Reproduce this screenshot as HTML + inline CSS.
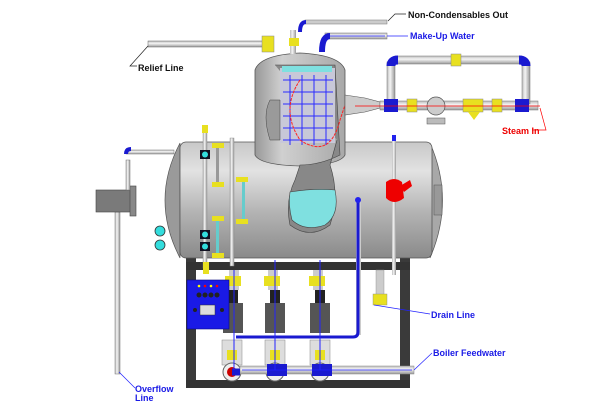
<!DOCTYPE html>
<html><head><meta charset="utf-8"><style>
html,body{margin:0;padding:0;background:#fff}
svg{display:block}
text{font-family:"Liberation Sans",sans-serif;font-size:9px;font-weight:bold}
</style></head><body>
<svg width="600" height="409" viewBox="0 0 600 409" xmlns="http://www.w3.org/2000/svg">
<defs>
<linearGradient id="tank" x1="0" y1="0" x2="0" y2="1">
<stop offset="0" stop-color="#c8c8c8"/><stop offset="0.25" stop-color="#e2e2e2"/><stop offset="0.6" stop-color="#b4b4b4"/><stop offset="1" stop-color="#8a8a8a"/></linearGradient>
<linearGradient id="tower" x1="0" y1="0" x2="1" y2="0">
<stop offset="0" stop-color="#999"/><stop offset="0.3" stop-color="#d0d0d0"/><stop offset="1" stop-color="#a8a8a8"/></linearGradient>
<linearGradient id="pipe" x1="0" y1="0" x2="0" y2="1">
<stop offset="0" stop-color="#bbb"/><stop offset="0.4" stop-color="#f4f4f4"/><stop offset="1" stop-color="#999"/></linearGradient>
<linearGradient id="vpipe" x1="0" y1="0" x2="1" y2="0">
<stop offset="0" stop-color="#bbb"/><stop offset="0.4" stop-color="#f4f4f4"/><stop offset="1" stop-color="#999"/></linearGradient>
</defs>
<!-- overflow box and pipe -->
<rect x="115" y="212" width="5" height="162" fill="url(#vpipe)" stroke="#777" stroke-width="0.5"/>
<rect x="96" y="190" width="36" height="22" fill="#7a7a7a" stroke="#444" stroke-width="0.6"/>
<rect x="130" y="186" width="6" height="30" fill="#888" stroke="#444" stroke-width="0.6"/>
<rect x="126" y="160" width="4" height="30" fill="url(#vpipe)" stroke="#777" stroke-width="0.5"/>
<rect x="126" y="150" width="48" height="4" fill="url(#pipe)" stroke="#777" stroke-width="0.5"/>
<path d="M126 154 q0-5 5-5" stroke="#1a1ad0" stroke-width="4" fill="none"/>
<!-- frame -->
<rect x="186" y="210" width="10" height="178" fill="#3a3a3a"/>
<rect x="400" y="210" width="10" height="178" fill="#3a3a3a"/>
<rect x="186" y="262" width="224" height="8" fill="#333"/>
<rect x="186" y="380" width="224" height="8" fill="#333"/>
<!-- tank -->
<path d="M180 143 Q150 200 180 258 Z" fill="#9a9a9a" stroke="#555" stroke-width="0.7"/>
<path d="M430 143 Q455 200 430 258 Z" fill="#a8a8a8" stroke="#555" stroke-width="0.7"/>
<rect x="180" y="142" width="252" height="116" rx="6" fill="url(#tank)" stroke="#555" stroke-width="0.8"/>
<rect x="434" y="185" width="8" height="30" fill="#999" stroke="#555" stroke-width="0.5"/>
<!-- tower -->
<path d="M255 70 Q260 55 300 53 Q340 55 345 70 L345 155 Q340 165 300 166 Q260 165 255 155 Z" fill="url(#tower)" stroke="#555" stroke-width="0.8"/>
<path d="M275 65 L335 65 L340 155 Q320 165 300 165 L295 180 Q285 200 290 225 Q310 240 330 225 Q340 195 330 165 L337 140" fill="#888" stroke="#444" stroke-width="0.6"/>
<path d="M290 192 Q315 188 335 190 Q340 215 325 225 Q305 232 292 220 Q288 205 290 192 Z" fill="#7fe0e0" stroke="#444" stroke-width="0.6"/>
<rect x="280" y="68" width="55" height="75" fill="#c8c8d8"/>
<g fill="none" stroke="#2a2aff" stroke-width="1">
<path d="M283 80 L333 80 M283 92 L333 92 M283 104 L333 104 M283 116 L333 116 M283 128 L333 128 M283 140 L330 140"/>
<path d="M290 75 L290 145 M302 75 L302 145 M314 75 L314 145 M326 75 L326 145"/>
</g>
<path d="M300 80 Q280 110 300 140 Q330 160 340 120 L345 105" fill="none" stroke="#f22" stroke-width="1" stroke-dasharray="3,1"/>
<rect x="282" y="66" width="50" height="6" fill="#7fe0e0"/>
<path d="M270 100 Q262 115 270 140 L280 140 L280 100 Z" fill="#9a9a9a" stroke="#444" stroke-width="0.5"/>
<!-- steam pipework -->
<path d="M345 95 L365 98 L380 102 L380 108 L365 112 L345 115 Z" fill="#ccc" stroke="#555" stroke-width="0.6"/>
<rect x="380" y="101" width="158" height="9" fill="url(#pipe)" stroke="#777" stroke-width="0.5"/>
<rect x="387" y="62" width="8" height="42" fill="url(#vpipe)" stroke="#777" stroke-width="0.5"/>
<rect x="522" y="62" width="8" height="42" fill="url(#vpipe)" stroke="#777" stroke-width="0.5"/>
<rect x="395" y="56" width="127" height="8" fill="url(#pipe)" stroke="#777" stroke-width="0.5"/>
<path d="M391 66 Q391 60 398 60" stroke="#1a1ad0" stroke-width="9" fill="none"/>
<path d="M526 66 Q526 60 519 60" stroke="#1a1ad0" stroke-width="9" fill="none"/>
<rect x="384" y="99" width="14" height="13" fill="#1a1ad0"/>
<rect x="515" y="99" width="14" height="13" fill="#1a1ad0"/>
<rect x="451" y="54" width="10" height="12" fill="#e8e020" stroke="#888" stroke-width="0.5"/>
<rect x="407" y="99" width="10" height="13" fill="#e8e020" stroke="#888" stroke-width="0.5"/>
<rect x="492" y="99" width="10" height="13" fill="#e8e020" stroke="#888" stroke-width="0.5"/>
<rect x="463" y="99" width="20" height="13" fill="#e8e020" stroke="#888" stroke-width="0.5"/>
<path d="M468 112 L480 112 L474 120 Z" fill="#e8e020"/>
<circle cx="436" cy="106" r="9" fill="#ccc" stroke="#555" stroke-width="0.7"/>
<rect x="427" y="118" width="18" height="6" fill="#bbb" stroke="#555" stroke-width="0.5"/>
<path d="M355 106 L540 106" stroke="#f00" stroke-width="0.8"/>
<!-- top pipes -->
<rect x="148" y="41" width="120" height="6" fill="url(#pipe)" stroke="#666" stroke-width="0.5"/>
<rect x="262" y="36" width="12" height="16" fill="#e8e020" stroke="#888" stroke-width="0.5"/>
<rect x="290" y="30" width="6" height="24" fill="url(#vpipe)"/>
<rect x="289" y="38" width="10" height="8" fill="#e8e020"/>
<rect x="305" y="20" width="82" height="4" fill="#ccc" stroke="#777" stroke-width="0.5"/>
<path d="M300 32 Q300 22 306 22" stroke="#1a1ad0" stroke-width="4" fill="none"/>
<rect x="325" y="33" width="62" height="6" fill="url(#pipe)" stroke="#777" stroke-width="0.5"/>
<path d="M322 52 Q322 36 330 36" stroke="#1a1ad0" stroke-width="6" fill="none"/>
<path d="M385 36 L330 36" stroke="#22f" stroke-width="0.8"/>
<!-- left gauges -->
<rect x="203" y="128" width="4" height="140" fill="url(#vpipe)" stroke="#888" stroke-width="0.4"/>
<rect x="230" y="138" width="4" height="128" fill="url(#vpipe)" stroke="#888" stroke-width="0.4"/>
<rect x="200" y="150" width="10" height="9" fill="#112"/><circle cx="205" cy="154.5" r="3" fill="#3dd"/>
<rect x="200" y="230" width="10" height="9" fill="#112"/><circle cx="205" cy="234.5" r="3" fill="#3dd"/>
<rect x="200" y="242" width="10" height="9" fill="#112"/><circle cx="205" cy="246.5" r="3" fill="#3dd"/>
<rect x="216" y="145" width="3" height="40" fill="#999"/><rect x="242" y="180" width="3" height="40" fill="#6cc"/>
<rect x="216" y="220" width="3" height="35" fill="#6cc"/>
<g fill="#e8e020"><rect x="212" y="143" width="12" height="5"/><rect x="212" y="182" width="12" height="5"/><rect x="236" y="177" width="12" height="5"/><rect x="236" y="219" width="12" height="5"/><rect x="212" y="216" width="12" height="5"/><rect x="212" y="253" width="12" height="5"/><rect x="202" y="125" width="6" height="8"/><rect x="203" y="262" width="6" height="12"/></g>
<circle cx="160" cy="231" r="5" fill="#3dd" stroke="#333" stroke-width="0.8"/>
<circle cx="160" cy="245" r="5" fill="#3dd" stroke="#333" stroke-width="0.8"/>
<!-- right vertical / red trap -->
<rect x="392" y="138" width="4" height="137" fill="url(#vpipe)"/>
<rect x="392" y="135" width="4" height="6" fill="#22e"/>
<path d="M386 182 Q394 176 402 182 L404 198 Q394 206 386 198 Z" fill="#e00"/>
<path d="M400 186 L410 180 L412 186 L404 192 Z" fill="#e00"/>
<rect x="376" y="270" width="8" height="25" fill="#ccc" stroke="#888" stroke-width="0.4"/>
<rect x="373" y="294" width="14" height="11" fill="#e8e020" stroke="#888" stroke-width="0.4"/>
<!-- vertical drain/blue line -->
<rect x="356" y="200" width="5" height="135" fill="#ccc"/>
<path d="M358 198 L358 332 Q358 337 353 337 L236 337" stroke="#1a1ad0" stroke-width="3" fill="none"/>
<circle cx="358" cy="200" r="3" fill="#22e"/>
<!-- pumps -->
<g>
<rect x="229" y="270" width="10" height="20" fill="#ccc"/><rect x="225" y="276" width="16" height="10" fill="#e8e020"/>
<rect x="223" y="303" width="20" height="30" fill="#555"/><rect x="228" y="290" width="10" height="13" fill="#222"/>
<rect x="268" y="270" width="10" height="20" fill="#ccc"/><rect x="264" y="276" width="16" height="10" fill="#e8e020"/>
<rect x="265" y="303" width="20" height="30" fill="#555"/><rect x="270" y="290" width="10" height="13" fill="#222"/>
<rect x="313" y="270" width="10" height="20" fill="#ccc"/><rect x="309" y="276" width="16" height="10" fill="#e8e020"/>
<rect x="310" y="303" width="20" height="30" fill="#555"/><rect x="315" y="290" width="10" height="13" fill="#222"/>
<rect x="222" y="340" width="20" height="25" fill="#ddd" stroke="#888" stroke-width="0.5"/>
<rect x="265" y="340" width="20" height="25" fill="#ddd" stroke="#888" stroke-width="0.5"/>
<rect x="310" y="340" width="20" height="25" fill="#ddd" stroke="#888" stroke-width="0.5"/>
<rect x="227" y="350" width="10" height="10" fill="#e8e020"/><rect x="270" y="350" width="10" height="10" fill="#e8e020"/><rect x="315" y="350" width="10" height="10" fill="#e8e020"/>
<circle cx="232" cy="372" r="9" fill="#eee" stroke="#666"/><circle cx="275" cy="372" r="9" fill="#eee" stroke="#666"/><circle cx="320" cy="372" r="9" fill="#eee" stroke="#666"/>
<circle cx="232" cy="372" r="5" fill="#c00"/>
</g>
<rect x="240" y="366" width="174" height="8" fill="url(#pipe)" stroke="#888" stroke-width="0.5"/>
<rect x="267" y="364" width="20" height="12" fill="#1a1ad0"/><rect x="312" y="364" width="20" height="12" fill="#1a1ad0"/>
<path d="M232 372 L240 372" stroke="#1a1ad0" stroke-width="7"/>
<path d="M242 370 L412 370" stroke="#22f" stroke-width="0.8"/>
<g stroke="#22f" stroke-width="1"><path d="M234 270 L234 370 M275 260 L275 370 M320 260 L320 370"/></g>
<!-- control box -->
<rect x="187" y="280" width="42" height="49" fill="#1a1ae6" stroke="#0a0a80" stroke-width="0.6"/>
<g fill="#222"><circle cx="199" cy="295" r="2.5"/><circle cx="205" cy="295" r="2.5"/><circle cx="211" cy="295" r="2.5"/><circle cx="217" cy="295" r="2.5"/><circle cx="195" cy="310" r="2"/><circle cx="222" cy="310" r="2"/></g>
<g><circle cx="199" cy="286" r="1.3" fill="#ff0"/><circle cx="205" cy="286" r="1.3" fill="#f00"/><circle cx="211" cy="286" r="1.3" fill="#ff0"/><circle cx="217" cy="286" r="1.3" fill="#f00"/></g>
<rect x="200" y="305" width="15" height="10" fill="#ddd" stroke="#333" stroke-width="0.5"/>
<!-- labels & leaders -->
<g fill="none" stroke="#222" stroke-width="0.7">
<path d="M388 21 L395 14 L406 14"/><path d="M148 46 L130 66 L137 66"/>
</g>
<path d="M387 36 L408 36" stroke="#22f" stroke-width="0.7"/>
<path d="M540 108 L546 130 L532 130" stroke="#f00" stroke-width="0.7" fill="none"/>
<path d="M374 305 L430 314" stroke="#22f" stroke-width="0.7"/>
<path d="M414 370 L432 353" stroke="#22f" stroke-width="0.7"/>
<path d="M119 372 L135 388" stroke="#22f" stroke-width="0.7"/>
<text x="408" y="18" fill="#111">Non-Condensables Out</text>
<text x="410" y="39" fill="#1a1ae6">Make-Up Water</text>
<text x="138" y="71" fill="#111">Relief Line</text>
<text x="502" y="134" fill="#e00">Steam In</text>
<text x="431" y="318" fill="#1a1ae6">Drain Line</text>
<text x="433" y="356" fill="#1a1ae6">Boiler Feedwater</text>
<text x="135" y="392" fill="#1a1ae6">Overflow</text>
<text x="135" y="401" fill="#1a1ae6">Line</text>
</svg>
</body></html>
